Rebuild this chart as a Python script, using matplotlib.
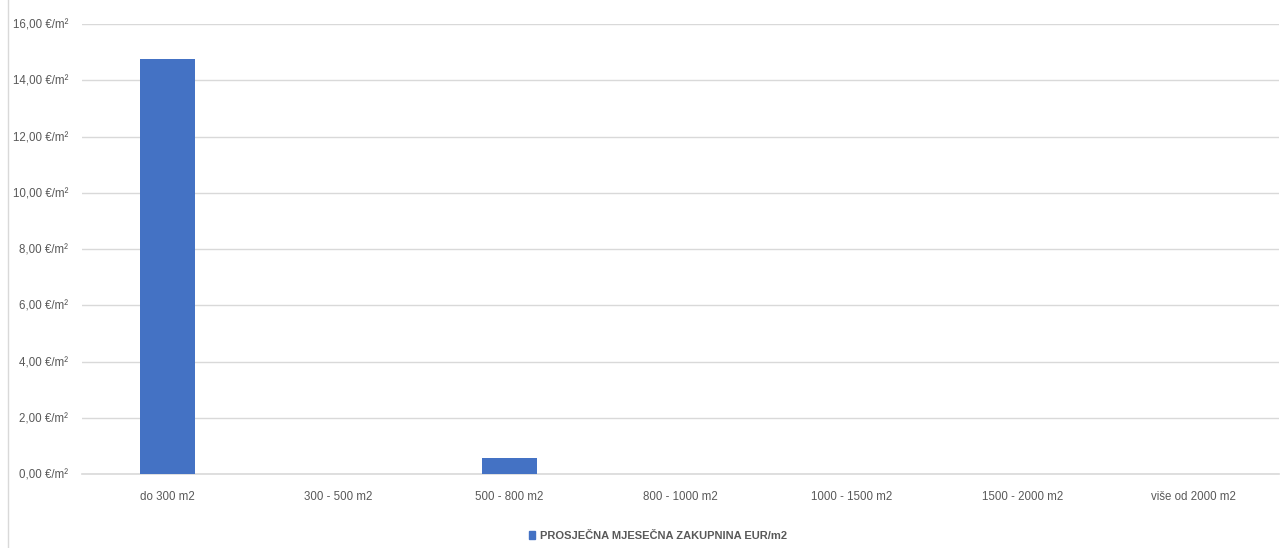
import matplotlib
matplotlib.use("Agg")
import matplotlib.pyplot as plt
from matplotlib.lines import Line2D
from matplotlib.ticker import FuncFormatter

plt.rcParams['font.family'] = ['Liberation Sans', 'DejaVu Sans']

# data
categories = ['do 300 m2', '300 - 500 m2', '500 - 800 m2', '800 - 1000 m2',
              '1000 - 1500 m2', '1500 - 2000 m2', 'više od 2000 m2']
rent = [14.76, 0, 0.58, 0, 0, 0, 0]
series_name = 'PROSJEČNA MJESEČNA ZAKUPNINA EUR/m2'
y_ticks = [0, 2, 4, 6, 8, 10, 12, 14, 16]

bar_color = '#4472C4'
text_color = '#595959'

fig = plt.figure(figsize=(12.82, 5.48), dpi=100)
ax = fig.add_axes([0.064, 0.135, 0.934, 0.821])

ax.bar(range(len(categories)), rent, width=0.32, color=bar_color, zorder=3)

ax.set_xlim(-0.5, len(categories) - 0.5)
ax.set_ylim(0, 16)
ax.set_yticks(y_ticks)
ax.yaxis.set_major_formatter(FuncFormatter(lambda v, p: f"{v:.2f}".replace('.', ',') + ' €/m²'))
ax.set_xticks(range(len(categories)))
ax.set_xticklabels(categories)

ax.grid(axis='y', color='#d9d9d9', linewidth=1, zorder=0)
ax.axhline(0, color='#d9d9d9', linewidth=1.2, zorder=2, clip_on=False)
for s in ax.spines.values():
    s.set_visible(False)
ax.tick_params(axis='both', length=0, labelsize=8.3, colors=text_color)
ax.tick_params(axis='x', pad=12)
ax.tick_params(axis='y', pad=10)

leg = fig.legend([plt.Rectangle((0, 0), 1, 1, color=bar_color)], [series_name],
                 loc='center', bbox_to_anchor=(0.513, 0.022), frameon=False,
                 handlelength=0.6, handleheight=0.6, handletextpad=0.4,
                 prop={'size': 8, 'weight': 'bold'})
for t in leg.get_texts():
    t.set_color(text_color)

# thin frame line on the left edge of the chart area
fig.add_artist(Line2D([0.006, 0.006], [0, 1], color='#d9d9d9', linewidth=1))

fig.savefig('out.png', dpi=100)
